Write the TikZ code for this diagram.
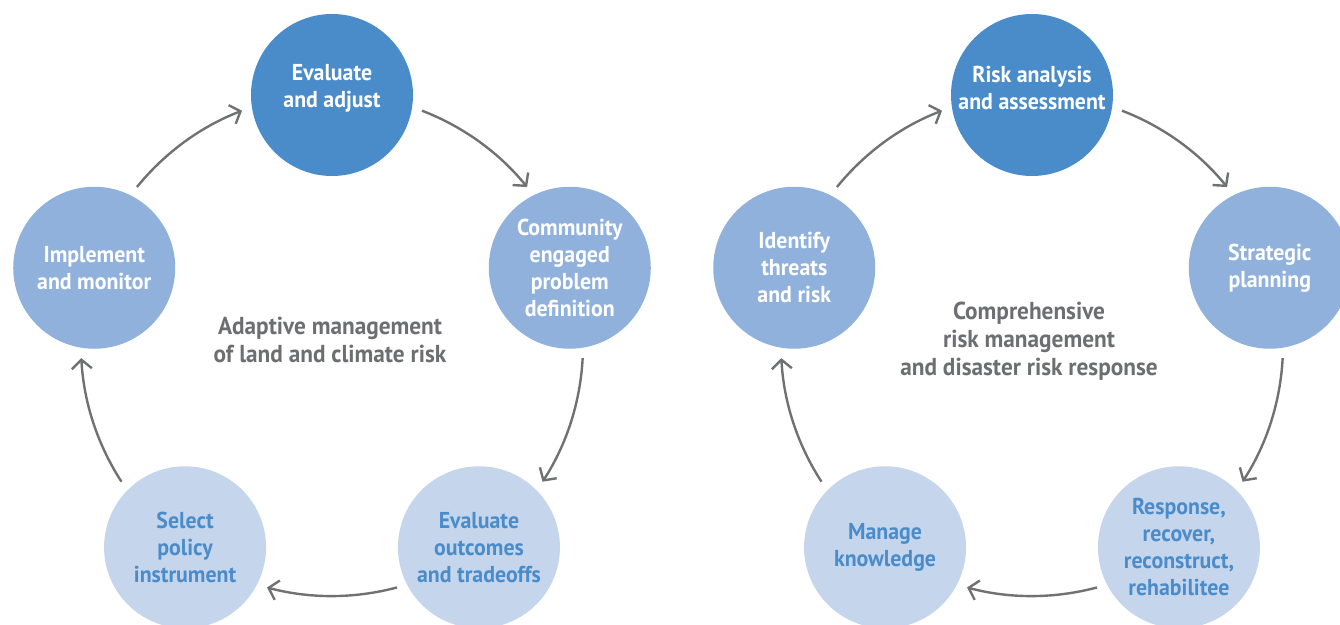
\documentclass[tikz,border=0pt]{standalone}
\usepackage{fontspec}
\setmainfont{PT Sans}[FakeStretch=0.95]
\usetikzlibrary{arrows.meta,calc}
\definecolor{dblue}{HTML}{4A8CCA}
\definecolor{mblue}{HTML}{8FB1DC}
\definecolor{lblue}{HTML}{C5D5EC}
\definecolor{gtext}{HTML}{6D6E71}
\definecolor{garrow}{HTML}{707173}
\begin{document}
\begin{tikzpicture}[x=1pt,y=-1pt,
  stage/.style={circle, minimum size=162pt, inner sep=0pt, align=center,
    font=\fontsize{23}{27}\selectfont\bfseries},
  darkstage/.style={stage, fill=dblue, text=white},
  midstage/.style={stage, fill=mblue, text=white},
  lightstage/.style={stage, fill=lblue, text=dblue},
  cycletitle/.style={align=center, text=gtext, font=\fontsize{24.5}{28}\selectfont\bfseries},
  flow/.style={draw=garrow, line width=2.4pt,
    -{Straight Barb[length=9pt,width=20pt]}}
]
\useasboundingbox (0,0) rectangle (1340,624);
\coordinate (cL) at (332,345);
\coordinate (cR) at (1032,345);

% ---- left cycle ----
\node[darkstage, text depth=18pt] (A) at ($(cL)+(-90:250)$) {Evaluate\\and adjust};
\node[midstage] (C) at ($(cL)+(-18:250)$) {Community\\engaged\\problem\\definition};
\node[lightstage] (D) at ($(cL)+(54:250)$) {Evaluate\\outcomes\\and tradeoffs};
\node[lightstage] (E) at ($(cL)+(126:250)$) {Select\\policy\\instrument};
\node[midstage] (B) at ($(cL)+(198:250)$) {Implement\\and monitor};
\node[cycletitle] (TL) at ($(cL)+(-2,-5)$) {Adaptive management\\of land and climate risk};

\draw[flow] ($(cL)+(-141:251)$) arc[start angle=-141, end angle=-111, radius=251];
\draw[flow] ($(cL)+(-69:251)$) arc[start angle=-69, end angle=-39, radius=251];
\draw[flow] ($(cL)+(3:251)$) arc[start angle=3, end angle=33, radius=251];
\draw[flow] ($(cL)+(75:251)$) arc[start angle=75, end angle=105, radius=251];
\draw[flow] ($(cL)+(147:251)$) arc[start angle=147, end angle=177, radius=251];

% ---- right cycle ----
\node[darkstage, text depth=14pt] (RA) at ($(cR)+(-90:250)$) {Risk analysis\\and assessment};
\node[midstage] (RC) at ($(cR)+(-18:250)$) {Strategic\\planning};
\node[lightstage] (RD) at ($(cR)+(54:250)$) {Response,\\recover,\\reconstruct,\\rehabilitee};
\node[lightstage] (RE) at ($(cR)+(126:250)$) {Manage\\knowledge};
\node[midstage] (RB) at ($(cR)+(198:250)$) {Identify\\threats\\and risk};
\node[cycletitle] (TR) at ($(cR)+(-3,-4)$) {Comprehensive\\risk management\\and disaster risk response};

\draw[flow] ($(cR)+(-141:251)$) arc[start angle=-141, end angle=-111, radius=251];
\draw[flow] ($(cR)+(-69:251)$) arc[start angle=-69, end angle=-39, radius=251];
\draw[flow] ($(cR)+(3:251)$) arc[start angle=3, end angle=33, radius=251];
\draw[flow] ($(cR)+(75:251)$) arc[start angle=75, end angle=105, radius=251];
\draw[flow] ($(cR)+(147:251)$) arc[start angle=147, end angle=177, radius=251];
\end{tikzpicture}
\end{document}
